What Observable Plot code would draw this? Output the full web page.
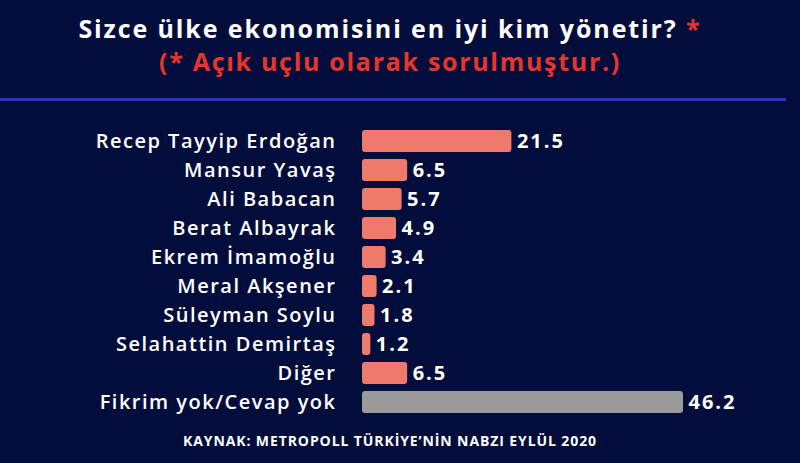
<!DOCTYPE html>
<html><head><meta charset="utf-8">
<script src="https://cdn.jsdelivr.net/npm/d3@7"></script>
<script src="https://cdn.jsdelivr.net/npm/@observablehq/plot@0.6"></script>
<style>
html,body{margin:0;padding:0;background:#020d3c;}
#wrap{width:800px;height:463px;background:#020d3c;position:relative;overflow:hidden;font-family:"Open Sans",Lato,sans-serif;}
#head{height:110px;position:relative;}
#t1{position:absolute;top:12px;left:-10px;width:800px;text-align:center;color:#fff;font-weight:700;font-size:25px;letter-spacing:1.9px;line-height:32px;white-space:nowrap;}
#t1 span{color:#e8352b;}
#t2{position:absolute;top:45px;left:-10px;width:800px;text-align:center;color:#e8352b;font-weight:700;font-size:25px;letter-spacing:1.7px;line-height:32px;white-space:nowrap;}
#rule{position:absolute;top:98px;left:0;width:786px;height:2.5px;background:#2f35b0;}
#chart{height:315px;}
#chart svg{display:block;}
#chart svg g[aria-label="y-axis tick label"] text{letter-spacing:1.5px;}
#chart svg g[aria-label="text"] text{letter-spacing:2px;}
#cap{position:relative;left:-10px;height:38px;line-height:32px;text-align:center;color:#fff;font-weight:700;font-size:14px;letter-spacing:0.9px;white-space:nowrap;}
</style>
</head><body>
<div id="wrap">
  <div id="head">
    <div id="t1">Sizce ülke ekonomisini en iyi kim yönetir? <span>*</span></div>
    <div id="t2">(* Açık uçlu olarak sorulmuştur.)</div>
    <div id="rule"></div>
  </div>
  <div id="chart"></div>
  <div id="cap">KAYNAK: METROPOLL TÜRKİYE’NİN NABZI EYLÜL 2020</div>
</div>
<script>
const categories = ["Recep Tayyip Erdoğan","Mansur Yavaş","Ali Babacan","Berat Albayrak","Ekrem İmamoğlu","Meral Akşener","Süleyman Soylu","Selahattin Demirtaş","Diğer","Fikrim yok/Cevap yok"];
const values = [21.5, 6.5, 5.7, 4.9, 3.4, 2.1, 1.8, 1.2, 6.5, 46.2];
const groups = ["yanıt","yanıt","yanıt","yanıt","yanıt","yanıt","yanıt","yanıt","yanıt","yok"];
const groupNames = ["yanıt","yok"];
const groupColors = ["#ef7a6c","#9a9a9a"];

const data = categories.map((c, i) => ({name: c, value: values[i], group: groups[i]}));

const chart = Plot.plot({
  width: 800,
  height: 315,
  marginLeft: 362,
  marginRight: 117,
  marginTop: 0,
  marginBottom: 0,
  style: {background: "transparent", color: "#fff", fontFamily: "'Open Sans', Lato, sans-serif"},
  x: {domain: [0, 46.2], axis: null},
  y: {domain: categories, range: [14.3, 308.7], paddingInner: 0.24, paddingOuter: 0.12, axis: null},
  color: {domain: groupNames, range: groupColors},
  marks: [
    Plot.barX(data, {x: "value", y: "name", fill: "group", rx: 3}),
    Plot.text(data, {x: "value", y: "name", text: d => d.value.toFixed(1), textAnchor: "start", dx: 5, fill: "#fff", fontSize: 20, fontWeight: 700}),
    Plot.axisY({tickSize: 0, tickPadding: 26, fontSize: 20, fontWeight: 600, fill: "#fff", label: null})
  ]
});
document.getElementById("chart").appendChild(chart);
</script>
</body></html>
